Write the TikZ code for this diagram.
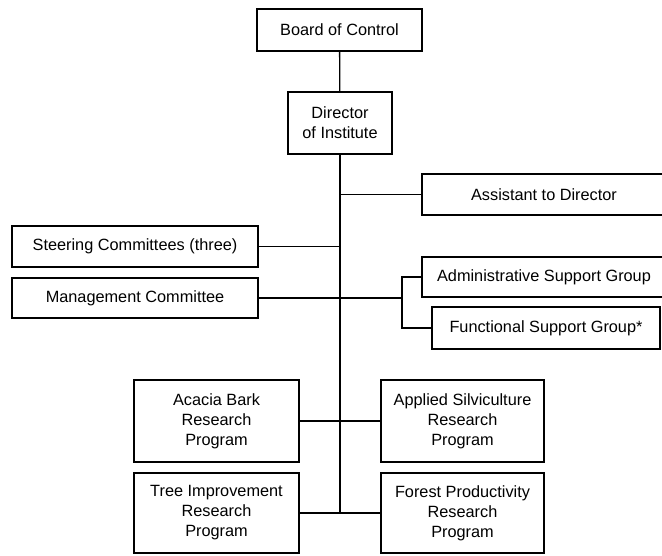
\documentclass[tikz,border=0pt]{standalone}
\usepackage{fontspec}
\setmainfont{Liberation Sans}
\usepackage{tikz}
\usetikzlibrary{calc}

\begin{document}
\begin{tikzpicture}[x=1pt,y=-1pt,line width=1.3pt,
  box/.style={draw,inner sep=0pt,align=center,font=\fontsize{16.3}{20}\selectfont}]
  \useasboundingbox (0,0) rectangle (662,555);
  \node[box,minimum width=165,minimum height=42] (board) at (339.5,30) {Board of Control};
  \node[box,minimum width=104,minimum height=62] (director) at (340,123) {Director\\of Institute};
  \node[box,minimum width=244,minimum height=41] (assistant) at (544,194.5) {Assistant to Director};
  \node[box,minimum width=246,minimum height=41] (steering) at (135,246.5) {Steering Committees (three)};
  \node[box,minimum width=246,minimum height=40] (mgmt) at (135,298) {Management Committee};
  \node[box,minimum width=244,minimum height=40] (admin) at (544,277) {Administrative Support Group};
  \node[box,minimum width=228,minimum height=42] (functional) at (546,328) {Functional Support Group*};
  \node[box,minimum width=165,minimum height=82] (acacia) at (216.5,421) {Acacia Bark\\Research\\Program};
  \node[box,minimum width=163,minimum height=82] (silvi) at (462.5,421) {Applied Silviculture\\Research\\Program};
  \node[box,minimum width=165,minimum height=80] (treeimp) at (216.5,513) {Tree Improvement\\Research\\Program};
  \node[box,minimum width=163,minimum height=80] (forestprod) at (462.5,513) {Forest Productivity\\Research\\Program};
  \coordinate (trunkend) at (340,513);
  \coordinate (fork) at (402,298);

  \draw (board) -- (director);
  \draw (director.south) -- (trunkend);
  \draw (assistant.west) -- (assistant.west -| trunkend);
  \draw (steering.east) -- (steering.east -| trunkend);
  \draw (mgmt.east) -- (fork);
  \draw (admin.west) -| (fork) |- (functional.west);
  \draw (acacia) -- (silvi);
  \draw (treeimp) -- (forestprod);
\end{tikzpicture}
\end{document}
